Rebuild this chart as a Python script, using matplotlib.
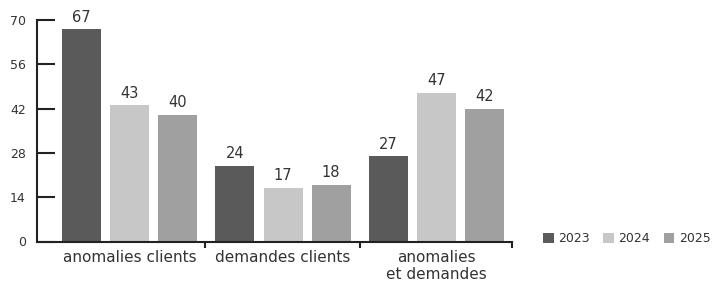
import numpy as np
import matplotlib.pyplot as plt

plt.rcParams['font.family'] = ['DejaVu Sans']

categories = ["anomalies clients", "demandes clients", "anomalies\net demandes"]
years = ["2023", "2024", "2025"]
values = {
    "2023": [67, 24, 27],
    "2024": [43, 17, 47],
    "2025": [40, 18, 42],
}
colors = ["#5a5a5a", "#c7c7c7", "#a0a0a0"]

fig = plt.figure(figsize=(7.16, 2.84), dpi=100)
ax = fig.add_axes([37 / 716, 1 - 241.5 / 284, 475 / 716, 221.5 / 284])

x = np.arange(len(categories))
width = 0.254
step = 0.313

for i, (yr, col) in enumerate(zip(years, colors)):
    bars = ax.bar(x + (i - 1) * step, values[yr], width, color=col, label=yr)
    for b, v in zip(bars, values[yr]):
        ax.text(b.get_x() + b.get_width() / 2, v + 1.4, str(v),
                ha='center', va='bottom', fontsize=10.5, color='#333333')

ax.set_ylim(0, 70)
ax.set_xlim(-0.603, 2.492)
ax.set_yticks([0, 14, 28, 42, 56, 70])
ax.tick_params(axis='y', direction='in', length=13, width=1.5, pad=8,
               labelsize=9, labelcolor='#333333', color='#222222')
ax.set_xticks(x)
ax.set_xticklabels(categories, fontsize=11, color='#333333', linespacing=1.2)
ax.tick_params(axis='x', which='major', length=0, pad=6)
ax.set_xticks([0.49, 1.5, 2.492], minor=True)
ax.tick_params(axis='x', which='minor', direction='out', length=4, width=1.5,
               color='#222222')

for s in ['top', 'right']:
    ax.spines[s].set_visible(False)
for s in ['left', 'bottom']:
    ax.spines[s].set_linewidth(1.5)
    ax.spines[s].set_color('#222222')

fig.legend(loc='center left', bbox_to_anchor=(533 / 716, 1 - 239 / 284),
           ncol=3, frameon=False, fontsize=9, handlelength=0.85,
           handleheight=0.85, handletextpad=0.35, columnspacing=1.1,
           borderpad=0.3, labelcolor='#333333')

fig.savefig('out.png', dpi=100)
